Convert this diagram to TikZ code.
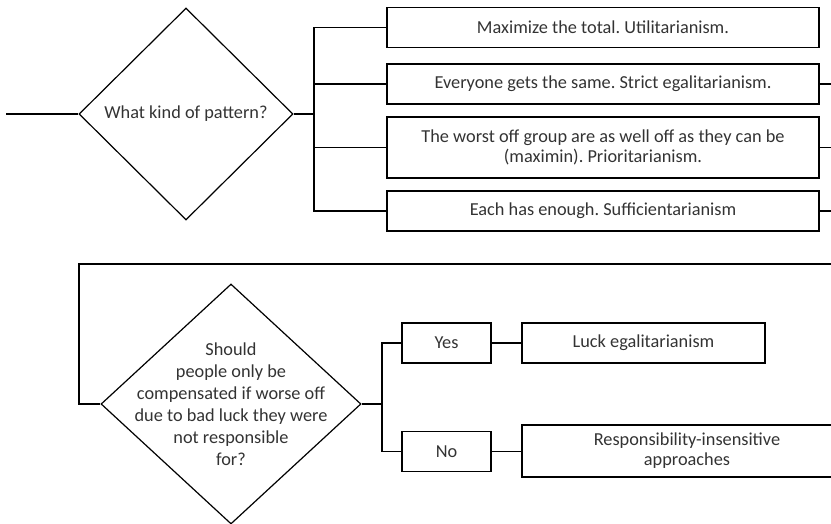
\documentclass[tikz,border=0pt]{standalone}
\usepackage{fontspec}
\setmainfont{Carlito}
\usepackage{tikz}
\usetikzlibrary{shapes.geometric, positioning}
\frenchspacing

\begin{document}
\begin{tikzpicture}[x=1pt, y=-1pt, line width=1.2pt,
  box/.style={draw, rectangle, minimum width=#1, minimum height=40pt, inner sep=2pt, align=center, font=\fontsize{18.3}{20}\selectfont, text=black!80},
  box/.default=432pt,
  question/.style={draw, diamond, inner sep=0pt, align=center, font=\fontsize{18.3}{22}\selectfont, text=black!80},
]
  \useasboundingbox (0,0) rectangle (831,523);

  \node[question, minimum width=214pt, minimum height=212pt] (q1) at (186,114) {What kind of pattern?};
  \coordinate (start) at (6,114);
  \coordinate (trunk1) at (314,114);

  \node[box] (total) at (603,27.5) {Maximize the total. Utilitarianism.};
  \node[box] (same) at (603,84) {Everyone gets the same. Strict egalitarianism.};
  \node[box, minimum height=61pt] (worst) at (603,147.5) {The worst off group are as well off as they can be\\(maximin). Prioritarianism.};
  \node[box] (enough) at (603,211) {Each has enough. Sufficientarianism};

  \coordinate (outsame) at (831,84);
  \coordinate (outworst) at (831,147.5);
  \coordinate (outenough) at (831,211);

  \draw (start) -- (q1.west);
  \draw (q1.east) -- (trunk1);
  \draw (total.west) -| (trunk1) |- (enough.west);
  \draw (trunk1 |- same.west) -- (same.west);
  \draw (trunk1 |- worst.west) -- (worst.west);
  \draw (same.east) -- (outsame);
  \draw (worst.east) -- (outworst);
  \draw (enough.east) -- (outenough);

  \node[question, minimum width=260pt, minimum height=240pt,
    label={[align=center, font=\fontsize{18.3}{22}\selectfont, text=black!80]center:Should\\people only be\\compensated if worse off\\due to bad luck they were\\not responsible\\for?}] (q2) at (231,404) {};
  \coordinate (loopin) at (831,264);
  \coordinate (loopcorner) at (79,404);
  \coordinate (trunk2) at (382,404);

  \node[box=89pt] (yes) at (446.5,343) {Yes};
  \node[box=89pt] (no) at (446.5,451.5) {No};
  \node[box=243pt] (luck) at (643.5,343) {Luck egalitarianism};
  \node[box=330pt, minimum height=52pt] (resp) at (687,451) {Responsibility-insensitive\\approaches};

  \draw (loopin) -| (loopcorner) -- (q2.west);
  \draw (q2.east) -- (trunk2);
  \draw (yes.west) -| (trunk2) |- (no.west);
  \draw (yes) -- (luck);
  \draw (no.east) -- (no.east -| resp.west);
\end{tikzpicture}
\end{document}
